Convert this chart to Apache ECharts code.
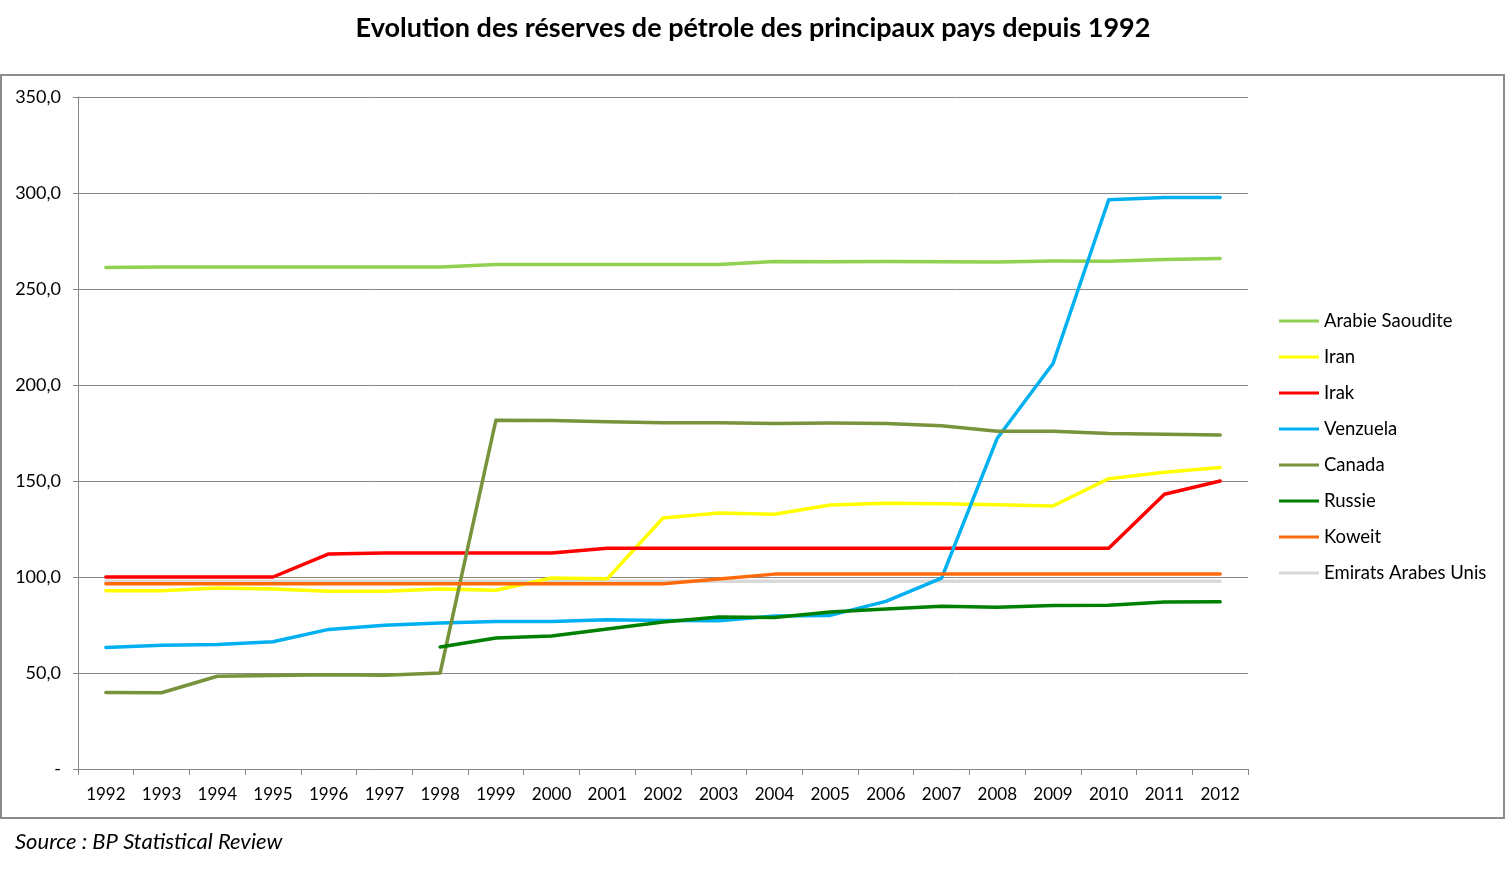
<!DOCTYPE html>
<html>
<head>
<meta charset="utf-8">
<script src="https://cdn.jsdelivr.net/npm/echarts@6/dist/echarts.min.js"></script>
<style>
html,body{margin:0;padding:0;background:#fff;}
#chart{width:1506px;height:869px;}
</style>
</head>
<body>
<div id="chart"></div>
<script>
const years = ['1992','1993','1994','1995','1996','1997','1998','1999','2000','2001','2002','2003','2004','2005','2006','2007','2008','2009','2010','2011','2012'];
const arabieSaoudite = [261.2,261.4,261.4,261.5,261.4,261.5,261.5,262.8,262.8,262.7,262.8,262.7,264.3,264.2,264.3,264.2,264.1,264.6,264.5,265.4,265.9];
const iran = [92.9,92.9,94.3,93.7,92.6,92.6,93.7,93.1,99.5,99.1,130.7,133.3,132.7,137.5,138.4,138.2,137.6,137.0,151.2,154.6,157.0];
const irak = [100.0,100.0,100.0,100.0,112.0,112.5,112.5,112.5,112.5,115.0,115.0,115.0,115.0,115.0,115.0,115.0,115.0,115.0,115.0,143.1,150.0];
const venezuela = [63.3,64.4,64.9,66.3,72.7,74.9,76.1,76.8,76.8,77.7,77.3,77.2,79.7,80.0,87.3,99.4,172.3,211.2,296.5,297.6,297.6];
const canada = [39.8,39.7,48.3,48.7,49.1,48.8,50.0,181.6,181.5,180.9,180.4,180.4,179.9,180.2,179.9,178.8,175.9,175.9,174.8,174.4,173.9];
const russie = [null,null,null,null,null,null,63.5,68.2,69.3,72.9,76.6,79.2,78.9,81.8,83.3,84.8,84.3,85.2,85.3,87.0,87.1];
const koweit = [96.5,96.5,96.5,96.5,96.5,96.5,96.5,96.5,96.5,96.5,96.5,99.0,101.5,101.5,101.5,101.5,101.5,101.5,101.5,101.5,101.5];
const emirats = [97.8,97.8,97.8,97.8,97.8,97.8,97.8,97.8,97.8,97.8,97.8,97.8,97.8,97.8,97.8,97.8,97.8,97.8,97.8,97.8,97.8];
const yTicks = [0,50,100,150,200,250,300,350];

const seriesDefs = [
  ['Arabie Saoudite', arabieSaoudite, '#92D050'],
  ['Iran', iran, '#FFFF00'],
  ['Irak', irak, '#FF0000'],
  ['Venzuela', venezuela, '#00B0F0'],
  ['Canada', canada, '#77933C'],
  ['Russie', russie, '#008000'],
  ['Koweit', koweit, '#FF6A0A'],
  ['Emirats Arabes Unis', emirats, '#D9D9D9']
];

const chart = echarts.init(document.getElementById('chart'));
const font = 'Lato, "Open Sans", sans-serif';
chart.setOption({
  animation: false,
  backgroundColor: '#fff',
  textStyle: {fontFamily: font},
  title: [
    {text: 'Evolution des réserves de pétrole des principaux pays depuis 1992', left: 'center', top: 10,
     textStyle: {fontFamily: font, fontSize: 27, fontWeight: 'bold', color: '#000'}},
    {text: 'Source : BP Statistical Review', left: 10, top: 826,
     textStyle: {fontFamily: font, fontSize: 22, fontStyle: 'italic', fontWeight: 'normal', color: '#000'}}
  ],
  graphic: [
    {type: 'rect', shape: {x: 1, y: 75, width: 1503, height: 743}, style: {fill: 'none', stroke: '#8c8c8c', lineWidth: 2}, silent: true, z: -1}
  ],
  grid: {left: 78, right: 258, top: 97, bottom: 100, containLabel: false},
  legend: {
    orient: 'vertical', left: 1274, top: 305,
    icon: 'rect', itemWidth: 40, itemHeight: 3, itemGap: 14,
    textStyle: {fontFamily: font, fontSize: 18.5, color: '#000', lineHeight: 22},
    data: seriesDefs.map(d => d[0])
  },
  xAxis: {
    type: 'category', data: years, boundaryGap: true,
    axisLine: {lineStyle: {color: '#868686', width: 1}},
    axisTick: {show: true, interval: 0, length: 6, lineStyle: {color: '#868686'}},
    axisLabel: {interval: 0, fontFamily: font, fontSize: 17, color: '#000', margin: 17}
  },
  yAxis: {
    type: 'value', min: 0, max: 350, interval: 50,
    axisLine: {show: true, lineStyle: {color: '#868686', width: 1}},
    axisTick: {show: true, length: 5, lineStyle: {color: '#868686'}},
    splitLine: {lineStyle: {color: '#868686', width: 1}},
    axisLabel: {fontFamily: font, fontSize: 18, color: '#000', margin: 17,
      formatter: v => (yTicks.indexOf(v) === 0 ? '-' : v.toFixed(1).replace('.', ','))}
  },
  series: seriesDefs.map((d, i) => ({
    name: d[0], type: 'line', data: d[1], symbol: 'none', showSymbol: false,
    connectNulls: false,
    lineStyle: {color: d[2], width: 3.5, cap: 'round', join: 'round'},
    itemStyle: {color: d[2]},
    z: 10 - (i === 7 ? 8 : 0)
  }))
});
</script>
</body>
</html>
